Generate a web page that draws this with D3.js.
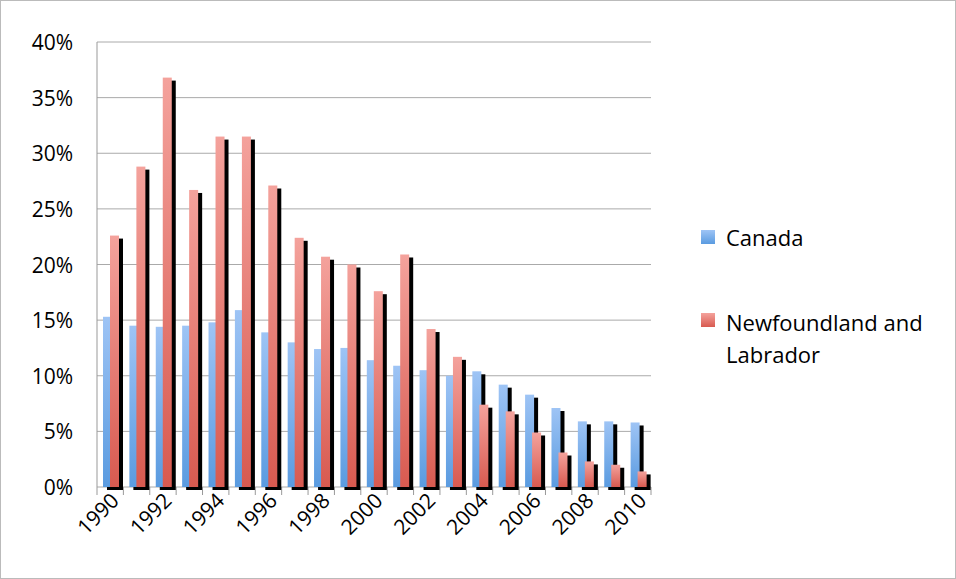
<!DOCTYPE html>
<html><head><meta charset="utf-8">
<script src="https://cdn.jsdelivr.net/npm/d3@7"></script>
<style>body{margin:0;background:#fff}text{font-family:"Open Sans",sans-serif}</style>
</head><body><svg id="c" width="956" height="579"></svg>
<script>
var years = d3.range(1990, 2011).map(String);
var canada = [15.3,14.5,14.4,14.5,14.8,15.9,13.9,13.0,12.4,12.5,11.4,10.9,10.5,10.0,10.4,9.2,8.3,7.1,5.9,5.9,5.8];
var nfld = [22.6,28.8,36.8,26.7,31.5,31.5,27.1,22.4,20.7,20.0,17.6,20.9,14.2,11.7,7.4,6.8,4.9,3.1,2.3,2.0,1.4];
var yTicks = [0,5,10,15,20,25,30,35,40];

var svg = d3.select("#c");
svg.append("rect").attr("x",0.5).attr("y",0.5).attr("width",955).attr("height",578)
  .attr("fill","#fff").attr("stroke","#bbb");

var defs = svg.append("defs");
function grad(id, top, bot) {
  var g = defs.append("linearGradient").attr("id",id).attr("x1",0).attr("y1",0).attr("x2",0).attr("y2",1);
  g.append("stop").attr("offset","0%").attr("stop-color",top);
  g.append("stop").attr("offset","100%").attr("stop-color",bot);
}
grad("gb","#9ec4f5","#5a9be0");
grad("gr","#f4a29c","#d85a50");

var x = d3.scaleBand().domain(years).range([97,651]);
var y = d3.scaleLinear().domain([0,40]).range([487,42]);

var g = svg.append("g");
yTicks.forEach(function(t){
  g.append("line").attr("x1",97).attr("x2",651).attr("y1",y(t)).attr("y2",y(t))
   .attr("stroke","#aaa").attr("stroke-width",1);
  g.append("text").attr("x",73).attr("y",y(t)+8).attr("text-anchor","end")
   .attr("font-size",21).text(t+"%");
});
g.append("line").attr("x1",97).attr("x2",97).attr("y1",42).attr("y2",487).attr("stroke","#999");
years.concat(["end"]).forEach(function(d,i){
  var xx = 97 + i*x.bandwidth();
  g.append("line").attr("x1",xx).attr("x2",xx).attr("y1",487).attr("y2",495).attr("stroke","#999");
});
for (var j = 0; j < years.length; j += 2) {
  var cx = x(years[j]) + x.bandwidth()/2;
  g.append("text").attr("transform","translate("+(cx+10)+",502) rotate(-45)")
   .attr("text-anchor","end").attr("font-size",21).text(years[j]);
}

var bw = 9;
function bars(data, off, fill) {
  g.selectAll(null).data(data).enter().append("rect")
   .attr("x",function(d,i){return x(years[i])+off+4;})
   .attr("y",function(d){return y(d)+3;})
   .attr("width",bw).attr("height",function(d){return y(0)-y(d);})
   .attr("fill","#000");
  g.selectAll(null).data(data).enter().append("rect")
   .attr("x",function(d,i){return x(years[i])+off;})
   .attr("y",function(d){return y(d);})
   .attr("width",bw).attr("height",function(d){return y(0)-y(d);})
   .attr("fill",fill);
}
bars(canada, 6, "url(#gb)");
bars(nfld, 13, "url(#gr)");

var lg = svg.append("g");
lg.append("rect").attr("x",701).attr("y",230).attr("width",14).attr("height",14).attr("fill","url(#gb)");
lg.append("text").attr("x",726).attr("y",246).attr("font-size",22).text("Canada");
lg.append("rect").attr("x",701).attr("y",313).attr("width",14).attr("height",14).attr("fill","url(#gr)");
lg.append("text").attr("x",726).attr("y",331).attr("font-size",22).text("Newfoundland and");
lg.append("text").attr("x",726).attr("y",363).attr("font-size",22).text("Labrador");
</script></body></html>
